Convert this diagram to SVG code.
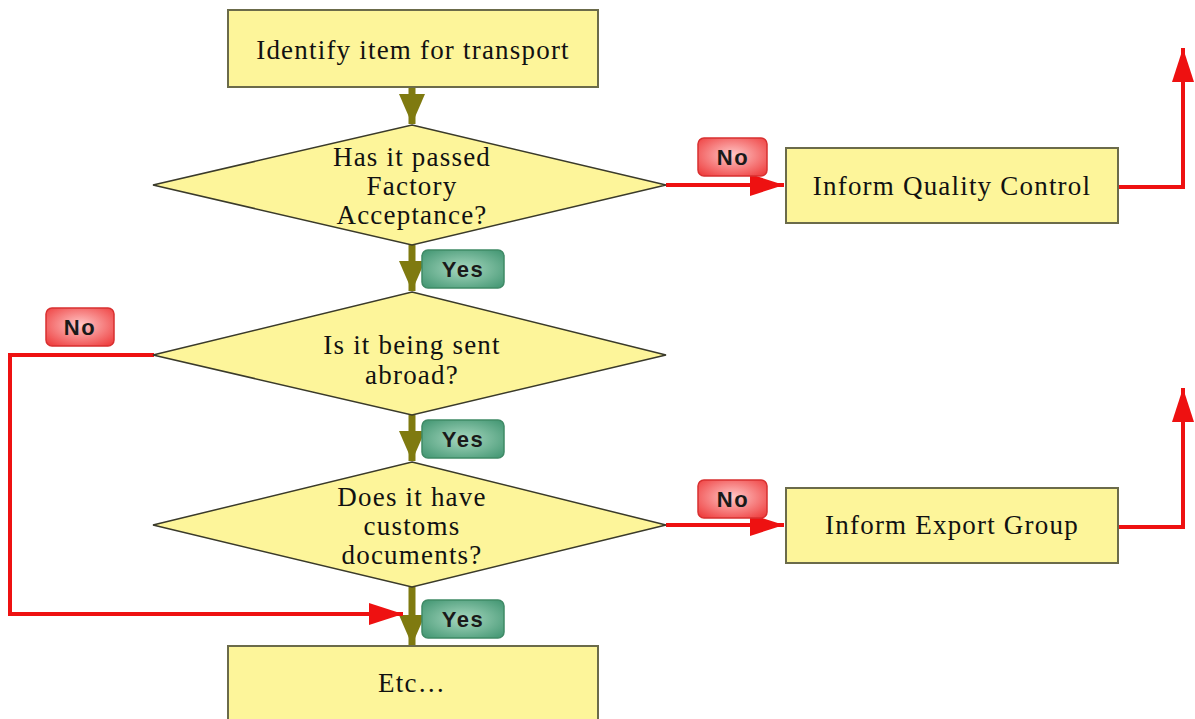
<svg xmlns="http://www.w3.org/2000/svg" width="1195" height="719" viewBox="0 0 1195 719">
  <style>
    .box { fill: #fdf59a; stroke: #6b6b4a; stroke-width: 2; }
    .dia { fill: #fdf59a; stroke: #3a3a2a; stroke-width: 1.5; }
    .lbl { font-family: "Liberation Serif", "Times New Roman", serif; font-size: 27px; letter-spacing: 1.2px; fill: #111; text-anchor: middle; }
    .flow { stroke: #7f7a10; stroke-width: 7; fill: none; }
    .fail { stroke: #ee1111; stroke-width: 4; fill: none; }
    .tag { font-family: "Liberation Sans", Arial, sans-serif; font-size: 22px; font-weight: bold; letter-spacing: 1.5px; fill: #1a1a1a; text-anchor: middle; }
    .yes { fill: url(#yesGrad); stroke: #3f8a66; stroke-width: 1.5; }
    .no { fill: url(#noGrad); stroke: #d83030; stroke-width: 1.5; }
  </style>
  <defs>
    <radialGradient id="yesGrad" cx="0.5" cy="0.5" r="0.7">
      <stop offset="0" stop-color="#a8d8c0"/>
      <stop offset="1" stop-color="#3f9470"/>
    </radialGradient>
    <radialGradient id="noGrad" cx="0.5" cy="0.45" r="0.7">
      <stop offset="0" stop-color="#ffc8c8"/>
      <stop offset="1" stop-color="#ee3b3b"/>
    </radialGradient>
    <marker id="headFlow" markerUnits="userSpaceOnUse" markerWidth="32" markerHeight="28" refX="30" refY="13" orient="auto">
      <path d="M0,0 L30,13 L0,26 Z" fill="#7f7a10"/>
    </marker>
    <marker id="headFail" markerUnits="userSpaceOnUse" markerWidth="36" markerHeight="26" refX="34" refY="11" orient="auto">
      <path d="M0,0 L34,11 L0,22 Z" fill="#ee1111"/>
    </marker>
  </defs>

  <rect width="1195" height="719" fill="#ffffff"/>

  <g id="connectors">
    <line class="flow" x1="412" y1="88" x2="412" y2="124" marker-end="url(#headFlow)"/>
    <line class="flow" x1="412" y1="245" x2="412" y2="291" marker-end="url(#headFlow)"/>
    <line class="flow" x1="412" y1="415" x2="412" y2="461" marker-end="url(#headFlow)"/>
    <line class="flow" x1="412" y1="587" x2="412" y2="645" marker-end="url(#headFlow)"/>
    <path class="fail" d="M666,185 L784,185" marker-end="url(#headFail)"/>
    <path class="fail" d="M1118,187 L1183,187 L1183,48" marker-end="url(#headFail)"/>
    <path class="fail" d="M666,525 L784,525" marker-end="url(#headFail)"/>
    <path class="fail" d="M1118,527 L1183,527 L1183,388" marker-end="url(#headFail)"/>
    <path class="fail" d="M154,355 L10,355 L10,614 L403,614" marker-end="url(#headFail)"/>
  </g>

  <g id="identify">
    <rect class="box" x="228" y="10" width="370" height="77"/>
    <text class="lbl" x="413" y="59">Identify item for transport</text>
  </g>

  <g id="factory-check">
    <polygon class="dia" points="412,125 666,185 412,245 153,185"/>
    <text class="lbl" x="412" y="166">Has it passed</text>
    <text class="lbl" x="412" y="195">Factory</text>
    <text class="lbl" x="412" y="224">Acceptance?</text>
  </g>

  <g id="abroad-check">
    <polygon class="dia" points="412,292 666,355 412,415 153,355"/>
    <text class="lbl" x="412" y="354">Is it being sent</text>
    <text class="lbl" x="412" y="384">abroad?</text>
  </g>

  <g id="customs-check">
    <polygon class="dia" points="412,462 666,525 412,587 153,525"/>
    <text class="lbl" x="412" y="506">Does it have</text>
    <text class="lbl" x="412" y="535">customs</text>
    <text class="lbl" x="412" y="564">documents?</text>
  </g>

  <g id="quality">
    <rect class="box" x="786" y="148" width="332" height="75"/>
    <text class="lbl" x="952" y="195">Inform Quality Control</text>
  </g>

  <g id="export">
    <rect class="box" x="786" y="488" width="332" height="75"/>
    <text class="lbl" x="952" y="534">Inform Export Group</text>
  </g>

  <g id="etc">
    <rect class="box" x="228" y="646" width="370" height="80"/>
    <text class="lbl" x="412" y="692">Etc…</text>
  </g>

  <g id="labels">
    <rect class="yes" x="422" y="250" width="82" height="38" rx="6"/>
    <text class="tag" x="463" y="277">Yes</text>
    <rect class="yes" x="422" y="420" width="82" height="38" rx="6"/>
    <text class="tag" x="463" y="447">Yes</text>
    <rect class="yes" x="422" y="600" width="82" height="38" rx="6"/>
    <text class="tag" x="463" y="627">Yes</text>
    <rect class="no" x="698" y="138" width="69" height="38" rx="6"/>
    <text class="tag" x="733" y="165">No</text>
    <rect class="no" x="698" y="480" width="69" height="38" rx="6"/>
    <text class="tag" x="733" y="507">No</text>
    <rect class="no" x="46" y="308" width="68" height="38" rx="6"/>
    <text class="tag" x="80" y="335">No</text>
  </g>
</svg>
